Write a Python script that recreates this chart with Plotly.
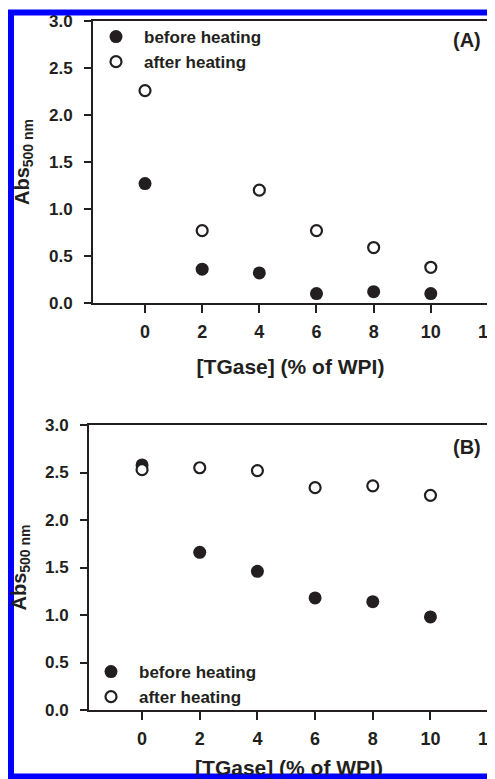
import plotly.graph_objects as go

# ---------------- data ----------------
tgase = [0, 2, 4, 6, 8, 10]
a_before = [1.27, 0.36, 0.32, 0.10, 0.12, 0.10]
a_after = [2.26, 0.77, 1.20, 0.77, 0.59, 0.38]
b_before = [2.58, 1.66, 1.46, 1.18, 1.14, 0.98]
b_after = [2.53, 2.55, 2.52, 2.34, 2.36, 2.26]
x_ticks = [0, 2, 4, 6, 8, 10, 12]
y_ticks = [0.0, 0.5, 1.0, 1.5, 2.0, 2.5, 3.0]
series_names = ["before heating", "after heating"]
panel_labels = ["(A)", "(B)"]
x_title = "[TGase] (% of WPI)"
y_title = "Abs<sub>500 nm</sub>"

# the page body adds an 8 px margin, so the figure is a little smaller
OFF = 8
W, H = 487, 771
INK = "#231f20"
FONT = "Liberation Sans, Arial, Helvetica, sans-serif"


def px(x):
    return (x - OFF) / W


def py(y):
    return 1 - (y - OFF) / H


fig = go.Figure()

filled = dict(symbol="circle", size=13, color=INK, line=dict(width=0))
hollow = dict(symbol="circle", size=11, color="white", line=dict(width=2.2, color=INK))

# panel A
fig.add_trace(go.Scatter(x=tgase, y=a_before, mode="markers", name=series_names[0],
                         marker=filled, xaxis="x", yaxis="y", legend="legend"))
fig.add_trace(go.Scatter(x=tgase, y=a_after, mode="markers", name=series_names[1],
                         marker=hollow, xaxis="x", yaxis="y", legend="legend"))
# panel B
fig.add_trace(go.Scatter(x=tgase, y=b_before, mode="markers", name=series_names[0],
                         marker=filled, xaxis="x2", yaxis="y2", legend="legend2"))
fig.add_trace(go.Scatter(x=tgase, y=b_after, mode="markers", name=series_names[1],
                         marker=hollow, xaxis="x2", yaxis="y2", legend="legend2"))

common_x = dict(
    tickvals=x_ticks, ticks="outside", ticklen=8, tickwidth=2, tickcolor=INK,
    showline=True, linewidth=2, linecolor=INK, mirror=True, showgrid=False,
    zeroline=False, tickfont=dict(family=FONT, size=18, color=INK, weight="bold"),
    ticklabelstandoff=3, ticklabeloverflow="allow", automargin=False,
    title=dict(text=x_title, font=dict(family=FONT, size=21, color=INK, weight="bold"),
               standoff=19),
)
common_y = dict(
    tickvals=y_ticks, tickformat=".1f", range=[0, 3], ticks="outside", ticklen=7,
    tickwidth=2, tickcolor=INK, showline=True, linewidth=2, linecolor=INK,
    mirror=True, showgrid=False, zeroline=False,
    tickfont=dict(family=FONT, size=17, color=INK, weight="bold"),
    ticklabelstandoff=8, ticklabeloverflow="allow", automargin=False,
    title=dict(text=y_title, font=dict(family=FONT, size=20, color=INK, weight="bold"),
               standoff=14),
)

legend_font = dict(family=FONT, size=17, color=INK, weight="bold")

fig.update_layout(
    width=W, height=H,
    margin=dict(l=0, r=0, t=0, b=0, pad=0),
    paper_bgcolor="white", plot_bgcolor="white",
    xaxis=dict(common_x, domain=[px(93), px(488)], range=[-1.82, 12.001], anchor="y"),
    yaxis=dict(common_y, domain=[py(303), py(21)], anchor="x"),
    xaxis2=dict(common_x, domain=[px(89), px(489)], range=[-1.84, 12.03], anchor="y2"),
    yaxis2=dict(common_y, domain=[py(710), py(425)], anchor="x2"),
    legend=dict(x=px(88), y=py(19), xanchor="left", yanchor="top", font=legend_font,
                bgcolor="rgba(0,0,0,0)", itemwidth=46, tracegroupgap=0),
    legend2=dict(x=px(83), y=py(654), xanchor="left", yanchor="top", font=legend_font,
                 bgcolor="rgba(0,0,0,0)", itemwidth=46, tracegroupgap=0),
    annotations=[
        dict(text=panel_labels[0], x=px(467), y=py(40), xref="paper", yref="paper",
             xanchor="center", yanchor="middle", showarrow=False,
             font=dict(family=FONT, size=20, color=INK, weight="bold")),
        dict(text=panel_labels[1], x=px(467), y=py(447), xref="paper", yref="paper",
             xanchor="center", yanchor="middle", showarrow=False,
             font=dict(family=FONT, size=20, color=INK, weight="bold")),
        # bottom edge of the blue frame, drawn over the cut-off axis title
        dict(text=" ", x=0.5, y=0, xref="paper", yref="paper", xanchor="center",
             yanchor="bottom", showarrow=False, width=W + 10, height=3, borderpad=0,
             bgcolor="#0000ff", font=dict(size=2)),
    ],
    shapes=[
        dict(type="rect", xref="paper", yref="paper", x0=px(11), x1=px(493.5),
             y0=py(12.5), y1=py(776.5), line=dict(color="#0000ff", width=6),
             fillcolor="rgba(0,0,0,0)", layer="above"),
    ],
    showlegend=True,
)

fig.write_html("out.html")
